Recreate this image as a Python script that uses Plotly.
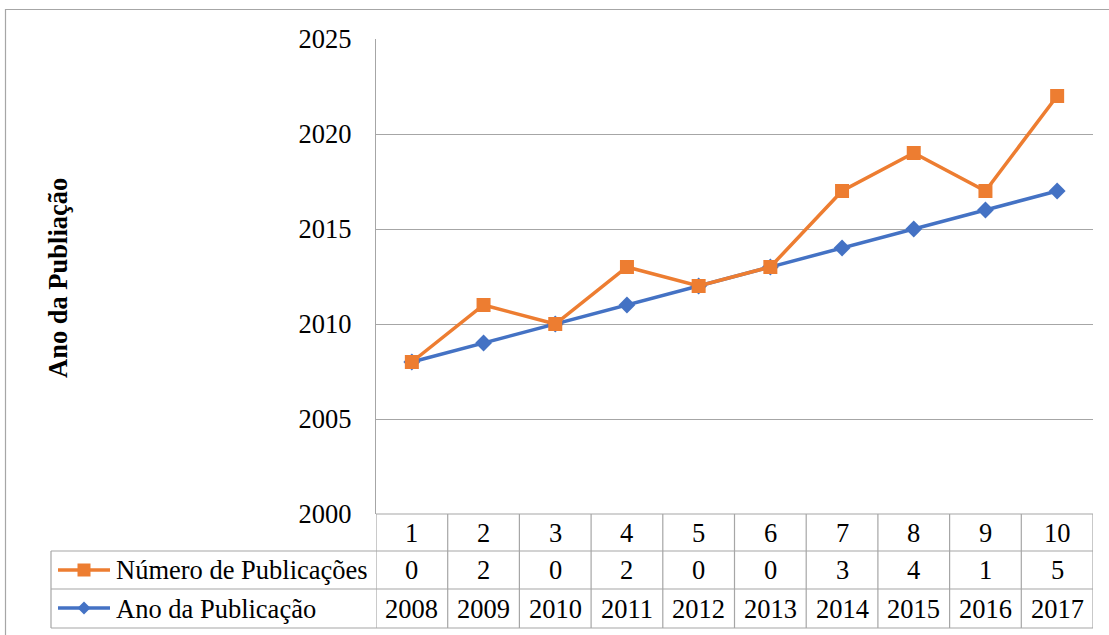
import plotly.graph_objects as go

categories = [1, 2, 3, 4, 5, 6, 7, 8, 9, 10]
num_publicacoes = [0, 2, 0, 2, 0, 0, 3, 4, 1, 5]
ano_publicacao = [2008, 2009, 2010, 2011, 2012, 2013, 2014, 2015, 2016, 2017]
series_names = ["Número de Publicações", "Ano da Publicação"]
y_title = "Ano da Publiação"

ORANGE = "#ED7D31"
BLUE = "#4472C4"
GRID = "#a6a6a6"
FONT = "Liberation Serif"
FS = 26.5

W, H = 1109, 635
L, R, T, B = 376, 1093, 39, 514  # plot area in px


def px(x):
    return (x - L) / (R - L)


def py(y):
    return (B - y) / (B - T)


# stacked line: orange is stacked on top of blue
orange_y = [a + b for a, b in zip(ano_publicacao, num_publicacoes)]

fig = go.Figure()
fig.add_trace(go.Scatter(
    x=categories, y=ano_publicacao, mode="lines+markers", name=series_names[1],
    line=dict(color=BLUE, width=3.5),
    marker=dict(symbol="diamond", size=13, color=BLUE),
))
fig.add_trace(go.Scatter(
    x=categories, y=orange_y, mode="lines+markers", name=series_names[0],
    line=dict(color=ORANGE, width=3.5),
    marker=dict(symbol="square", size=14, color=ORANGE),
))

shapes = []
# outer chart border
shapes.append(dict(type="rect", xref="paper", yref="paper",
                   x0=px(5.5), x1=px(1120), y0=py(9.5), y1=py(640),
                   line=dict(color=GRID, width=1.2)))

row_edges = [514, 551, 589, 628]
shapes.append(dict(type="line", xref="paper", yref="paper",
                   x0=px(L), x1=px(R), y0=py(514), y1=py(514),
                   line=dict(color=GRID, width=1.2)))
for yy in row_edges[1:]:
    shapes.append(dict(type="line", xref="paper", yref="paper",
                       x0=px(51), x1=px(R), y0=py(yy), y1=py(yy),
                       line=dict(color=GRID, width=1.2)))
for i in range(len(categories) + 1):
    xb = categories[0] - 0.5 + i
    shapes.append(dict(type="line", xref="x", yref="paper",
                       x0=xb, x1=xb, y0=py(514), y1=py(628),
                       line=dict(color=GRID, width=1.2)))
shapes.append(dict(type="line", xref="paper", yref="paper",
                   x0=px(51), x1=px(51), y0=py(551), y1=py(628),
                   line=dict(color=GRID, width=1.2)))

# legend keys inside the table
key_rows = [(570, ORANGE, "square"), (608, BLUE, "diamond")]
for yc, col, sym in key_rows:
    shapes.append(dict(type="line", xref="paper", yref="paper",
                       x0=px(58), x1=px(110), y0=py(yc), y1=py(yc),
                       line=dict(color=col, width=3.5)))
    cx = px(84)
    cy = py(yc)
    dx = 6.5 / (R - L)
    dy = 6.5 / (B - T)
    if sym == "square":
        shapes.append(dict(type="rect", xref="paper", yref="paper",
                           x0=cx - dx, x1=cx + dx, y0=cy - dy, y1=cy + dy,
                           fillcolor=col, line=dict(width=0)))
    else:
        path = (f"M {cx - dx},{cy} L {cx},{cy + dy} L {cx + dx},{cy} "
                f"L {cx},{cy - dy} Z")
        shapes.append(dict(type="path", xref="paper", yref="paper", path=path,
                           fillcolor=col, line=dict(width=0)))

annotations = []
tfont = dict(family=FONT, size=FS, color="black")
for c, n, a in zip(categories, num_publicacoes, ano_publicacao):
    annotations.append(dict(x=c, y=py(532.5), xref="x", yref="paper", text=str(c),
                            showarrow=False, font=tfont, xanchor="center", yanchor="middle"))
    annotations.append(dict(x=c, y=py(570), xref="x", yref="paper", text=str(n),
                            showarrow=False, font=tfont, xanchor="center", yanchor="middle"))
    annotations.append(dict(x=c, y=py(608.5), xref="x", yref="paper", text=str(a),
                            showarrow=False, font=tfont, xanchor="center", yanchor="middle"))
annotations.append(dict(x=px(114), y=py(570), xref="paper", yref="paper",
                        text=series_names[0], showarrow=False, font=tfont,
                        xanchor="left", yanchor="middle"))
annotations.append(dict(x=px(114), y=py(608.5), xref="paper", yref="paper",
                        text=series_names[1], showarrow=False, font=tfont,
                        xanchor="left", yanchor="middle"))
annotations.append(dict(x=px(58), y=py(278), xref="paper", yref="paper",
                        text=f"<b>{y_title}</b>", textangle=-90, showarrow=False,
                        font=dict(family=FONT, size=26.5, color="black"),
                        xanchor="center", yanchor="middle"))

fig.update_layout(
    width=W, height=H,
    margin=dict(l=L, r=W - R, t=T, b=H - B, pad=0),
    paper_bgcolor="white", plot_bgcolor="white",
    showlegend=False,
    font=dict(family=FONT, size=FS, color="black"),
    shapes=shapes, annotations=annotations,
    xaxis=dict(range=[0.5, 10.5], showticklabels=False, showgrid=False,
               zeroline=False, showline=False, ticks=""),
    yaxis=dict(range=[2000, 2025], dtick=5, tick0=2000, showgrid=True,
               gridcolor=GRID, gridwidth=1.2, zeroline=False,
               showline=True, linecolor=GRID, linewidth=1.2,
               ticks="", ticklabelstandoff=18,
               tickfont=dict(family=FONT, size=FS, color="black")),
)

fig.write_html("out.html", config={"displayModeBar": False},
               post_script="document.body.style.margin='0px';")
